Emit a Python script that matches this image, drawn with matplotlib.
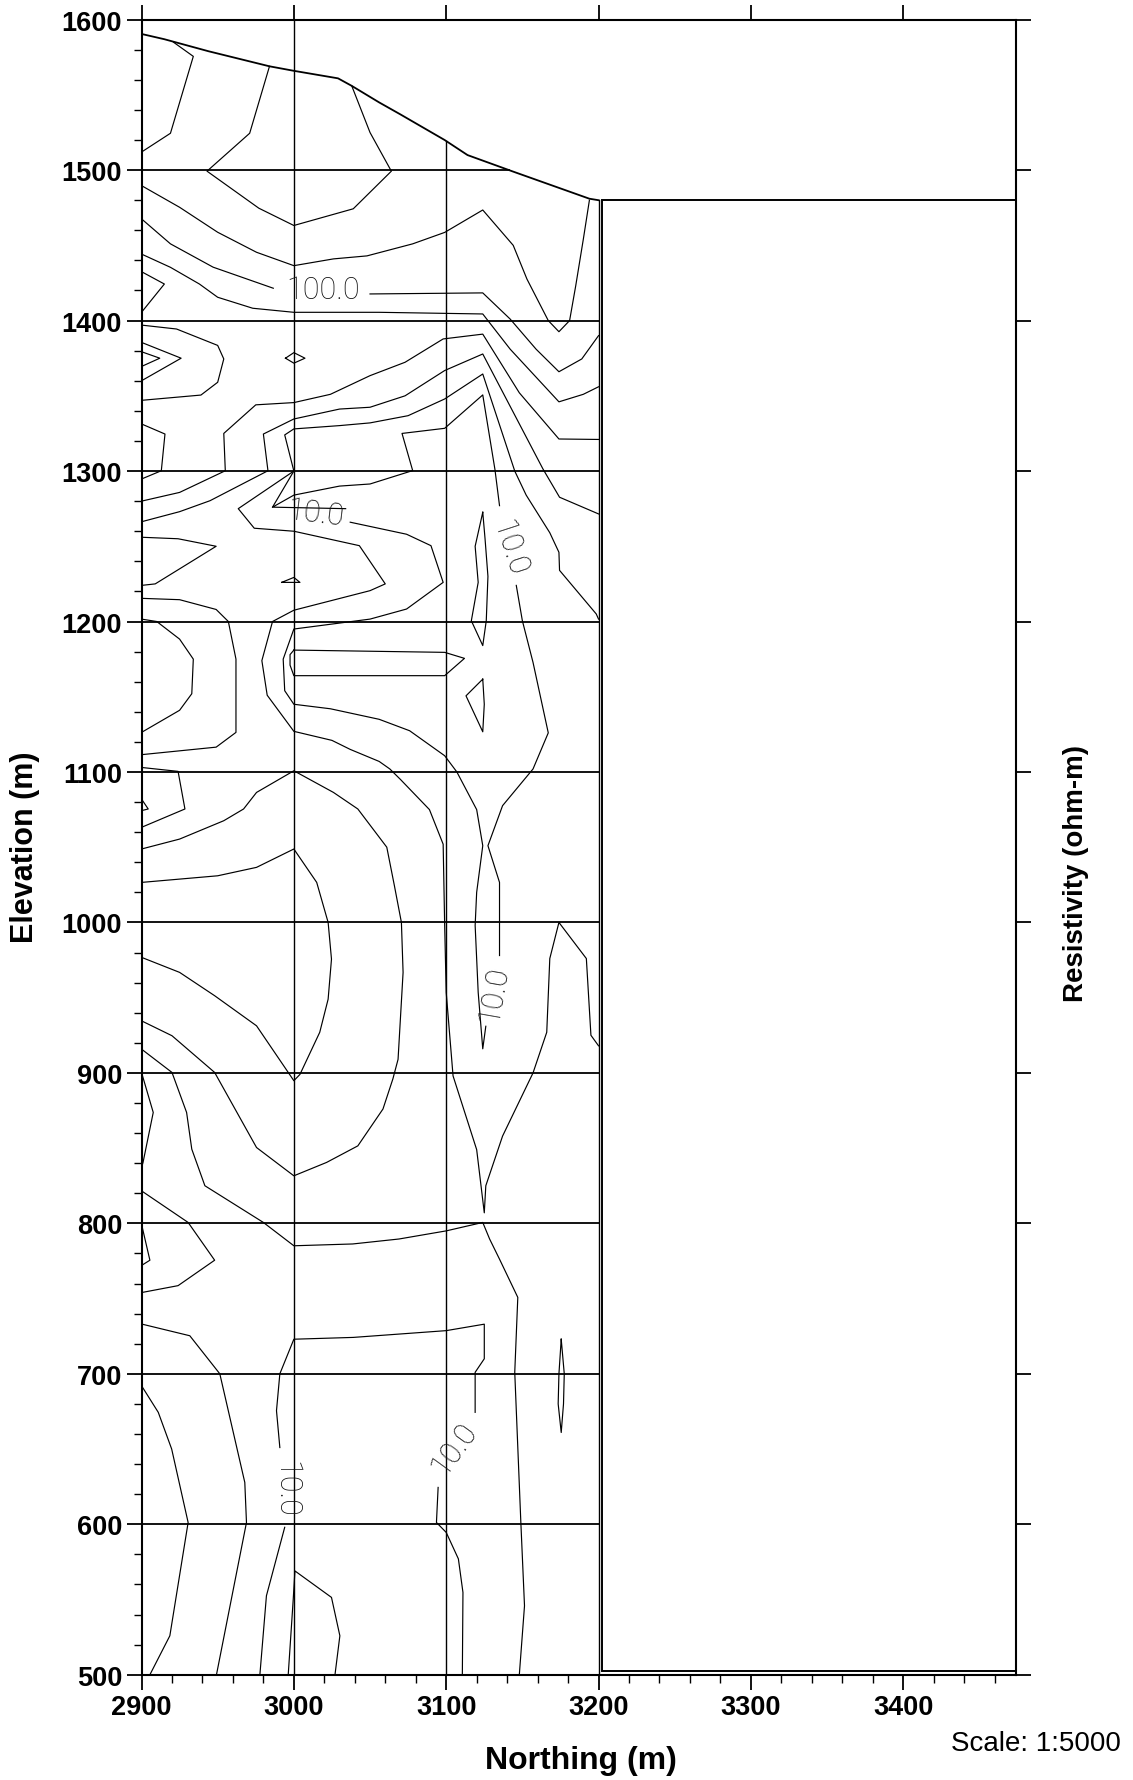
import numpy as np
import matplotlib
matplotlib.use("Agg")
import matplotlib.pyplot as plt
from matplotlib.patches import Rectangle
from matplotlib.ticker import MultipleLocator

plt.rcParams["font.family"] = ["Liberation Sans", "DejaVu Sans"]

# section extent (m)
N_MIN, N_MAX = 2900, 3474
Z_MIN, Z_MAX = 500, 1600
SECTION_END = 3200

# ground surface along the profile
surface_n = [2900, 2915, 2944, 2984, 3000, 3029, 3038, 3056, 3070, 3099, 3114, 3144, 3194, 3200]
surface_z = [1590.5, 1587, 1579, 1569, 1566, 1561, 1556, 1545, 1537, 1520, 1510, 1499, 1481, 1480]

# resistivity contours, (northing, elevation) vertices
c01 = [(2900, 1512), (2919, 1524.5), (2934, 1575.6), (2921, 1585)]
c02 = [(2984, 1569), (2971, 1524.5), (2943, 1499.3), (2977, 1474.7), (3000, 1463.2), (3039, 1474.3),
       (3064, 1499.3), (3050, 1525), (3038, 1556)]
c03 = [(2900, 1489.7), (2925, 1475.3), (2950, 1458.7), (2975.5, 1445.4), (3000, 1436.5), (3026, 1441),
       (3048, 1443), (3078, 1451), (3099, 1458.6), (3124, 1473.5), (3144, 1450), (3153, 1427.6),
       (3167, 1400), (3174, 1392.6), (3181, 1400), (3185, 1423), (3190, 1454), (3194, 1480)]
c04a = [(2900, 1467.6), (2919, 1451), (2947, 1435.5), (2986.5, 1421.5)]
c04b = [(3050, 1417.7), (3124, 1418.4), (3142, 1401), (3159, 1381), (3174, 1366), (3189, 1374.5), (3200, 1390)]
c05 = [(2900, 1444.2), (2919, 1435.4), (2938, 1424.3), (2950, 1415.5), (2973, 1408.2), (3000, 1405.5),
       (3056, 1405.5), (3124, 1404.4), (3142, 1381), (3174, 1346), (3190, 1351), (3200, 1356)]
c06 = [(2900, 1432.5), (2915, 1424.3), (2900, 1405.5)]
c07 = [(2900, 1397), (2923, 1394.4), (2950, 1383.5), (2954, 1374.5), (2950, 1359), (2939, 1350.5), (2900, 1347)]
c08 = [(2900, 1385.5), (2926, 1375), (2900, 1360)]
c09 = [(2900, 1379.3), (2912, 1375), (2900, 1369.5)]
c10 = [(2994.5, 1375), (3000, 1378.7), (3007.3, 1375), (3000, 1371.7), (2994.5, 1375)]
c11 = [(2900, 1331.3), (2915.4, 1324.6), (2913, 1300.2), (2900, 1294.7)]
c12 = [(2900, 1280), (2925, 1285.8), (2955, 1300.2), (2954, 1325), (2975, 1344), (3000, 1345.5),
       (3024, 1351), (3050, 1363.4), (3073, 1372.3), (3098, 1387.8), (3124, 1391), (3148, 1352),
       (3174, 1321.3), (3200, 1321)]
c13 = [(2900, 1266.3), (2925, 1273), (2945, 1280.3), (2983, 1300.2), (2980, 1324.6), (3000, 1334.6),
       (3030, 1341.2), (3050, 1342.4), (3073, 1350), (3099, 1366.8), (3124, 1377.8), (3163.5, 1301.4),
       (3174.4, 1282.6), (3200, 1271.5)]
c14 = [(2986, 1276), (3000, 1300), (2994, 1324), (3000, 1328), (3030, 1330.2), (3050, 1332), (3075, 1336.8),
       (3099, 1347.9), (3124, 1364.5), (3145, 1300), (3152.5, 1284), (3168, 1259), (3174, 1246),
       (3174.4, 1234), (3198.5, 1205), (3200, 1201.6)]
c15a = [(3037, 1266), (3074, 1258), (3090, 1250.4), (3098, 1226), (3074, 1208.3), (3050, 1201.6),
        (3000, 1195), (2993, 1175), (2994, 1154), (3000, 1145), (3024, 1142), (3056, 1135), (3076, 1127.4),
        (3099, 1110.8), (3107, 1100), (3120, 1075), (3124, 1051), (3120, 1020), (3119, 998), (3121, 953.5),
        (3124, 916), (3126, 931)]
c15b = [(3135, 978), (3135, 1026.6), (3127.4, 1051), (3137, 1077.6), (3157, 1102), (3167, 1126),
        (3157, 1172.8), (3150, 1200.5), (3146, 1224)]
c15c = [(3135, 1277), (3132, 1301), (3124, 1350.6), (3099, 1328.4), (3071, 1325), (3078, 1300.3),
        (3050, 1291.4), (3030, 1290), (3000, 1284), (2986, 1276), (3034, 1275)]
c16 = [(3000, 1300), (2963.5, 1275), (2974, 1262), (3000, 1260), (3043, 1250.4), (3060, 1225), (3050, 1220.5),
       (3000, 1207.5), (2986, 1200), (2979, 1174), (2982.5, 1151), (3000, 1127), (3025, 1121), (3037, 1115),
       (3056, 1107), (3063, 1102), (3070, 1095), (3089, 1075), (3098, 1052), (3099, 998), (3100, 953.5),
       (3104.5, 898), (3120, 849), (3125, 807), (3126, 825), (3137, 858), (3157, 900), (3166, 927),
       (3168, 976), (3174, 1000), (3192, 976), (3195, 925), (3200, 918)]
c17 = [(3000, 1181), (3099, 1179.5), (3112, 1175.5), (3099, 1164), (3000, 1164), (2997.5, 1171),
       (2997.5, 1178), (3000, 1181)]
c18 = [(3124, 1272.6), (3119, 1250), (3121, 1226), (3116.5, 1200.5), (3124, 1184), (3126.3, 1200.5),
       (3127.4, 1230), (3125.5, 1255), (3124, 1272.6)]
c19 = [(3124, 1161.7), (3113, 1150.6), (3124, 1126.7), (3125, 1145), (3124, 1161.7)]
c20 = [(2992, 1226), (3000, 1229.3), (3004, 1226), (2992, 1226)]
c21 = [(2900, 1256), (2924, 1255), (2949, 1250), (2909, 1225), (2900, 1224)]
c22 = [(2900, 1215.4), (2925, 1214.5), (2949, 1208), (2957, 1200), (2962, 1175), (2962, 1126.3),
       (2949, 1116.5), (2900, 1111.5)]
c23 = [(2900, 1201.6), (2910, 1200), (2925, 1188.3), (2934, 1175), (2933, 1152), (2925, 1141), (2900, 1126.3)]
c24 = [(2900, 1103), (2924, 1100.4), (2928.5, 1075.4), (2900, 1063.2)]
c25 = [(2900, 1082), (2904.4, 1075.4), (2900, 1074.3)]
c26 = [(2900, 1048.8), (2925, 1055.4), (2954, 1067.6), (2967, 1075.4), (2975.5, 1086.4), (3000, 1100.8),
       (3026, 1086.4), (3042, 1075.4), (3061, 1050), (3066, 1024.4), (3070.6, 1000), (3071.7, 966.8),
       (3068.4, 909), (3065, 896), (3058.5, 876), (3042, 851.5), (3021.5, 840.5), (3000, 831.6),
       (2975.5, 850.4), (2948, 900.3), (2920, 924.7), (2900, 934.6)]
c27 = [(2900, 1026.6), (2950, 1031), (2975.5, 1036.6), (3000, 1048.8), (3015, 1026.6), (3022.5, 1000),
       (3024.7, 975.6), (3022.5, 949), (3017, 927), (3004, 899), (3000, 894.8), (2975.5, 931.3),
       (2948, 951.3), (2925, 966.8), (2900, 976.8)]
c28 = [(2900, 915.8), (2920, 900.3), (2929.6, 873.7), (2933, 849.3), (2941.6, 825), (2980, 800.6),
       (3000, 785.1), (3038.6, 786.3), (3069, 789.6), (3100, 795), (3124, 800.6), (3128.5, 789.6),
       (3135, 776.2), (3147, 750.8), (3145, 701), (3149, 601.2), (3151.4, 545.8), (3148, 500)]
c29 = [(2900, 900.3), (2907.7, 873.7), (2901, 840.5), (2900, 837)]
c30 = [(2900, 821.6), (2930.6, 800.6), (2948, 775.5), (2924, 758.6), (2900, 754)]
c31 = [(2900, 799.5), (2905.5, 775.5), (2900, 772)]
c32 = [(2900, 733.1), (2931.7, 725.3), (2951.4, 700), (2967.8, 627.8), (2968.9, 601.2), (2949.2, 500)]
c33 = [(2900, 692.1), (2911, 674.4), (2919.8, 650), (2930.6, 601.2), (2918.6, 525.9), (2905.5, 500)]
c34a = [(2977.7, 500), (2982, 552.5), (2994, 598)]
c34b = [(2990.8, 651), (2988.6, 675.5), (2990.8, 700), (3000, 723), (3039, 724.2), (3100, 728.7),
        (3125, 733), (3125, 710), (3119, 701), (3119, 674.4)]
c34c = [(3094.7, 624.5), (3093.6, 601.2), (3100, 594.6), (3108, 577), (3111, 554.7), (3110.6, 500)]
c35 = [(2996.3, 500), (2999.6, 550.3), (3000.7, 569), (3024.7, 551.4), (3030.2, 525.9), (3027, 500)]
c36 = [(3175.5, 723), (3177.5, 700), (3177, 680), (3175.5, 661), (3173.5, 680), (3174, 700), (3175.5, 723)]

contour_lines = [c01, c02, c03, c04a, c04b, c05, c06, c07, c08, c09, c10, c11, c12, c13, c14,
                 c15a, c15b, c15c, c16, c17, c18, c19, c20, c21, c22, c23, c24, c25, c26, c27,
                 c28, c29, c30, c31, c32, c33, c34a, c34b, c34c, c35, c36]

# contour labels: text, northing, elevation, angle
label_text = ["100.0", "10.0", "10.0", "10.0", "10.0", "10.0"]
label_n = [3019, 3014, 3141, 3131.5, 2995, 3105.5]
label_z = [1420.5, 1272, 1249.5, 952.5, 623.5, 651]
label_rot = [0, -7, -72, 80, -90, 54]

fig = plt.figure(figsize=(11.33, 17.81), dpi=100)
ax = fig.add_axes([0.1249, 0.0591, 0.7718, 0.9293])
ax.set_xlim(N_MIN, N_MAX)
ax.set_ylim(Z_MIN, Z_MAX)

# grid inside the section, cut at the ground surface
rev_z = surface_z[::-1]
rev_n = surface_n[::-1]
for z in range(600, 1600, 100):
    end = min(SECTION_END, np.interp(z, rev_z, rev_n))
    ax.plot([N_MIN, end], [z, z], color="black", lw=1.3, zorder=2)
for n in (3000, 3100, 3200):
    top = Z_MAX if n == 3000 else np.interp(n, surface_n, surface_z)
    ax.plot([n, n], [Z_MIN, top], color="black", lw=1.0, zorder=2)

ax.plot(surface_n, surface_z, color="black", lw=1.3, zorder=3)

for line in contour_lines:
    xs, ys = zip(*line)
    ax.plot(xs, ys, color="black", lw=0.85, zorder=3)

for txt, n, z, r in zip(label_text, label_n, label_z, label_rot):
    ax.text(n, z, txt, rotation=r, rotation_mode="anchor", ha="center", va="center",
            fontsize=22, family=["Roboto", "DejaVu Sans"], fontweight="light",
            color="#111111", zorder=4)

# empty panel to the right of the section
ax.add_patch(Rectangle((3202.5, 502.7), N_MAX - 3202.5, surface_z[-1] - 502.7,
                       fill=False, edgecolor="black", lw=1.4, zorder=3))

for side in ax.spines.values():
    side.set_linewidth(1.5)

ax.xaxis.set_major_locator(MultipleLocator(100))
ax.xaxis.set_minor_locator(MultipleLocator(20))
ax.yaxis.set_major_locator(MultipleLocator(100))
ax.yaxis.set_minor_locator(MultipleLocator(20))
ax.tick_params(which="major", direction="out", length=11, width=1.3, top=True, right=True,
               labelsize=19.5, pad=3)
ax.tick_params(which="minor", direction="out", length=6, width=1.0, top=False, right=False)
for lab in ax.get_xticklabels() + ax.get_yticklabels():
    lab.set_fontweight("bold")

ax.set_xlabel("Northing (m)", fontsize=23, fontweight="bold")
ax.xaxis.set_label_coords(0.5026, -0.0515)
ax.xaxis.label.set_va("center")
ax.set_ylabel("Elevation (m)", fontsize=22, fontweight="bold")
ax.yaxis.set_label_coords(-0.1332, 0.5007)
ax.yaxis.label.set_va("center")

fig.text(0.9497, 0.5098, "Resistivity (ohm-m)", rotation=90, ha="center", va="center",
         fontsize=20, fontweight="bold")
fig.text(0.9144, 0.0208, "Scale: 1:5000", ha="center", va="center", fontsize=20)

fig.savefig("out.png", dpi=100)
